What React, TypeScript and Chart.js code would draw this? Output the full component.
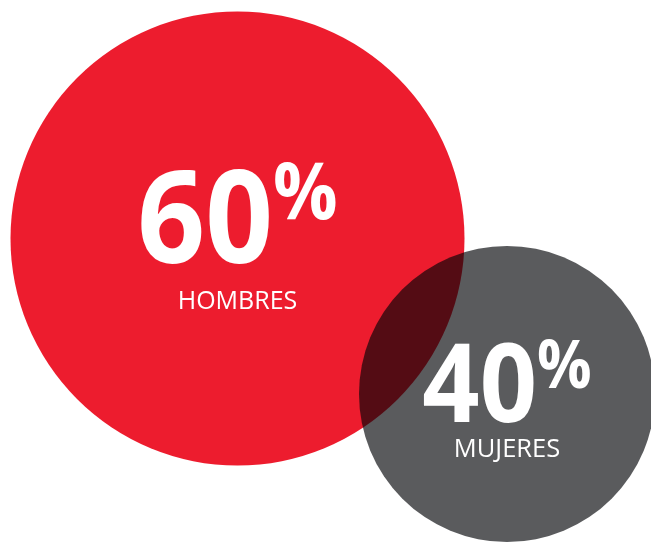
import React, { useEffect, useRef } from "react";
import { Chart, registerables } from "chart.js";

Chart.register(...registerables);

// ---- data ----
const categories = ["HOMBRES", "MUJERES"];
const percentValues = [60, 40];
const bubbleX = [237.5, 507];
const bubbleY = [238.5, 394];
const bubbleR = [227, 148];

// ---- styles ----
const colors = ["#ED1C2E", "rgba(3, 4, 8, 0.655)"];
const labelStyle = [
  { numSize: 129, pctSize: 78, numDy: 24, pctTop: -76, catSize: 25, catDy: 70, scaleX: 0.92 },
  { numSize: 109, pctSize: 66, numDy: 28, pctTop: -54, catSize: 25.5, catDy: 63, scaleX: 0.92 },
];

const textPlugin = {
  id: "bubbleText",
  afterDatasetsDraw(chart: any) {
    const ctx = chart.ctx;
    const meta = chart.getDatasetMeta(0);
    meta.data.forEach((el: any, i: number) => {
      const st = labelStyle[i];
      const cx = el.x;
      const cy = el.y;
      ctx.save();
      ctx.fillStyle = "#ffffff";
      ctx.textBaseline = "alphabetic";
      ctx.textAlign = "left";
      const num = String(percentValues[i]);
      ctx.font = `bold ${st.numSize}px "Open Sans"`;
      const nw = ctx.measureText(num).width * st.scaleX;
      ctx.font = `bold ${st.pctSize}px "Open Sans"`;
      const pw = ctx.measureText("%").width * st.scaleX;
      const total = nw + pw;
      const x0 = cx - total / 2;
      const base = cy + st.numDy;
      ctx.save();
      ctx.translate(x0, base);
      ctx.scale(st.scaleX, 1);
      ctx.font = `bold ${st.numSize}px "Open Sans"`;
      ctx.fillText(num, 0, 0);
      ctx.restore();
      ctx.save();
      ctx.translate(x0 + nw, cy + st.pctTop + st.pctSize * 0.72);
      ctx.scale(st.scaleX, 1);
      ctx.font = `bold ${st.pctSize}px "Open Sans"`;
      ctx.fillText("%", 0, 0);
      ctx.restore();
      ctx.font = `${st.catSize}px "Open Sans"`;
      ctx.textAlign = "center";
      ctx.fillText(categories[i], cx, cy + st.catDy);
      ctx.restore();
    });
  },
};

export default function App() {
  const ref = useRef<HTMLCanvasElement | null>(null);
  useEffect(() => {
    document.body.style.margin = "0";
    const canvas = ref.current;
    if (!canvas) return;
    const chart = new Chart(canvas, {
      type: "bubble",
      data: {
        labels: categories,
        datasets: [
          {
            label: "Sexo",
            data: categories.map((_, i) => ({ x: bubbleX[i], y: bubbleY[i], r: bubbleR[i] })),
            backgroundColor: colors,
            borderWidth: 0,
            hoverBorderWidth: 0,
            radius: (c: any) => {
              const raw = c.raw;
              const s = c.chart.scales.x;
              if (!raw || !s) return 0;
              return s.getPixelForValue(raw.r) - s.getPixelForValue(0);
            },
            clip: false as any,
          } as any,
        ],
      },
      options: {
        responsive: false,
        animation: false,
        devicePixelRatio: 1,
        events: [],
        layout: { padding: 0, autoPadding: false } as any,
        plugins: { legend: { display: false }, tooltip: { enabled: false } },
        scales: {
          x: { type: "linear", min: 0, max: 651, display: false },
          y: { type: "linear", min: 0, max: 543, reverse: true, display: false },
        },
      },
      plugins: [textPlugin],
    });
    return () => chart.destroy();
  }, []);
  return (
    <div style={{ width: 651, height: 543, background: "#fff" }}>
      <canvas ref={ref} width={651} height={543} style={{ display: "block" }} />
    </div>
  );
}
